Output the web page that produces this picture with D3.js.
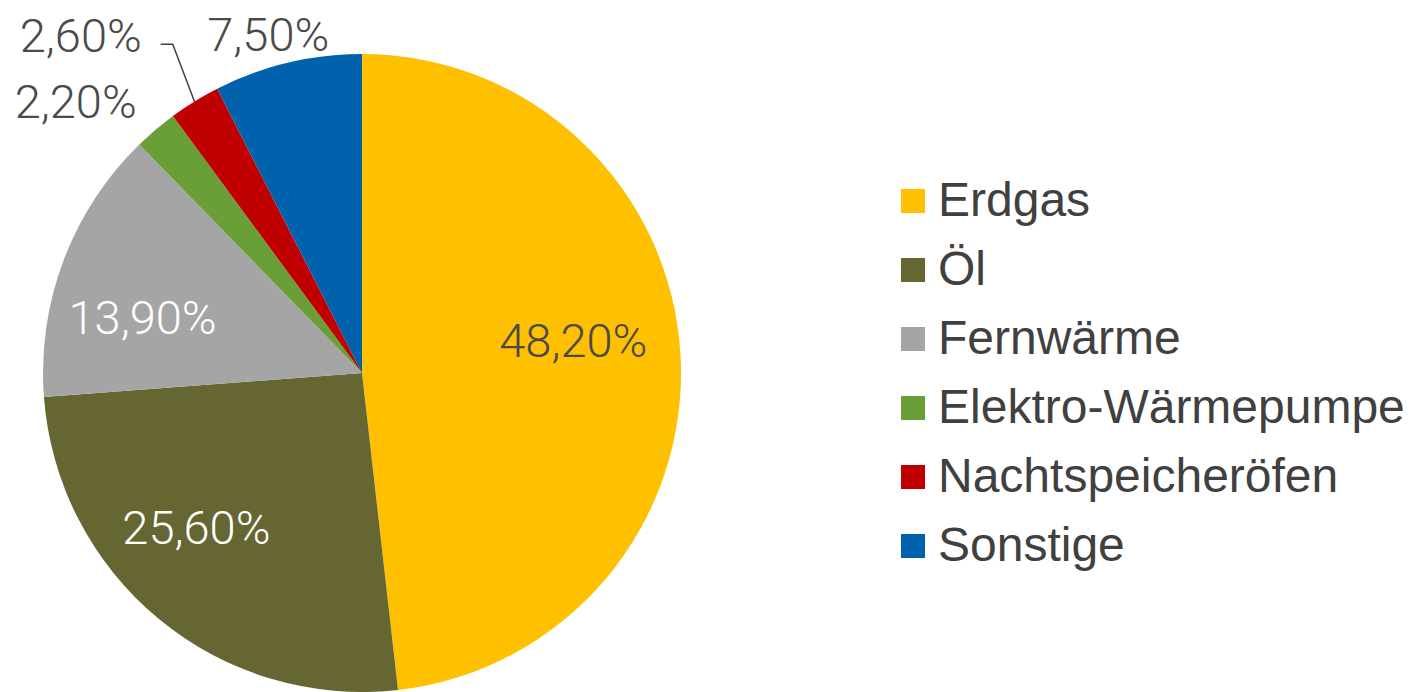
<!DOCTYPE html>
<html>
<head>
<meta charset="utf-8">
<script src="https://cdn.jsdelivr.net/npm/d3@7"></script>
<style>
  html, body { margin: 0; padding: 0; background: #fff; }
  svg { display: block; }
</style>
</head>
<body>
<div id="chart"></div>
<script>
// data
var categories = ["Erdgas", "Öl", "Fernwärme", "Elektro-Wärmepumpe", "Nachtspeicheröfen", "Sonstige"];
var values = [48.2, 25.6, 13.9, 2.2, 2.6, 7.5];
var valueLabels = ["48,20%", "25,60%", "13,90%", "2,20%", "2,60%", "7,50%"];
var colors = ["#FFC000", "#666633", "#A5A5A5", "#6A9F38", "#C00000", "#0062AC"];

var width = 1411, height = 692;
var cx = 362, cy = 373, radius = 319;

// label placement: radius factor and angle shift (deg) relative to slice middle
var labelLayout = [
  { rf: 0.67, shift: -5.4, fill: "#4a4a4a" },
  { rf: 0.71, shift: 7.4, fill: "#ffffff" },
  { rf: 0.71, shift: -6.4, fill: "#ffffff" },
  { rf: 1.237, shift: -6.2, fill: "#4a4a4a" },
  { rf: 1.378, shift: -8.1, fill: "#4a4a4a", leader: true },
  { rf: 1.1, shift: -2.0, fill: "#4a4a4a" }
];

var data = categories.map(function (c, i) {
  return { name: c, value: values[i], label: valueLabels[i], color: colors[i], i: i };
});

var svg = d3.select("#chart")
  .append("svg")
  .attr("width", width)
  .attr("height", height);

var pie = d3.pie()
  .sort(null)
  .value(function (d) { return d.value; });

var arc = d3.arc()
  .innerRadius(0)
  .outerRadius(radius);

var arcs = pie(data);

var g = svg.append("g")
  .attr("transform", "translate(" + cx + "," + cy + ")");

g.selectAll("path")
  .data(arcs)
  .enter()
  .append("path")
  .attr("d", arc)
  .attr("fill", function (d) { return d.data.color; });

function polar(angle, r) {
  return [Math.sin(angle) * r, -Math.cos(angle) * r];
}

// labels (+ leader line for the small red slice)
arcs.forEach(function (d, i) {
  var lay = labelLayout[i];
  var mid = (d.startAngle + d.endAngle) / 2;
  var p = polar(mid + lay.shift * Math.PI / 180, lay.rf * radius);
  if (lay.leader) {
    var edge = polar(mid, radius);
    var startX = p[0] + 80;
    var startY = p[1] + 9;
    g.append("polyline")
      .attr("points", [[startX, startY], [startX + 12, startY], edge].map(function (q) { return q.join(","); }).join(" "))
      .attr("fill", "none")
      .attr("stroke", "#404040")
      .attr("stroke-width", 1.5);
  }
  g.append("text")
    .attr("x", p[0])
    .attr("y", p[1])
    .attr("dy", "0.35em")
    .attr("text-anchor", "middle")
    .style("font-family", "Roboto")
    .style("font-weight", 300)
    .style("font-size", "47px")
    .attr("fill", lay.fill)
    .text(d.data.label);
});

// legend
var legend = svg.append("g")
  .attr("transform", "translate(901,201)");

var rows = legend.selectAll("g")
  .data(data)
  .enter()
  .append("g")
  .attr("transform", function (d, i) { return "translate(0," + (i * 69) + ")"; });

rows.append("rect")
  .attr("x", 0)
  .attr("y", -12)
  .attr("width", 24)
  .attr("height", 24)
  .attr("fill", function (d) { return d.color; });

rows.append("text")
  .attr("x", 37)
  .attr("y", 15)
  .style("font-family", "'Liberation Sans', Arial, sans-serif")
  .style("font-size", "48px")
  .attr("fill", "#404040")
  .text(function (d) { return d.name; });
</script>
</body>
</html>
